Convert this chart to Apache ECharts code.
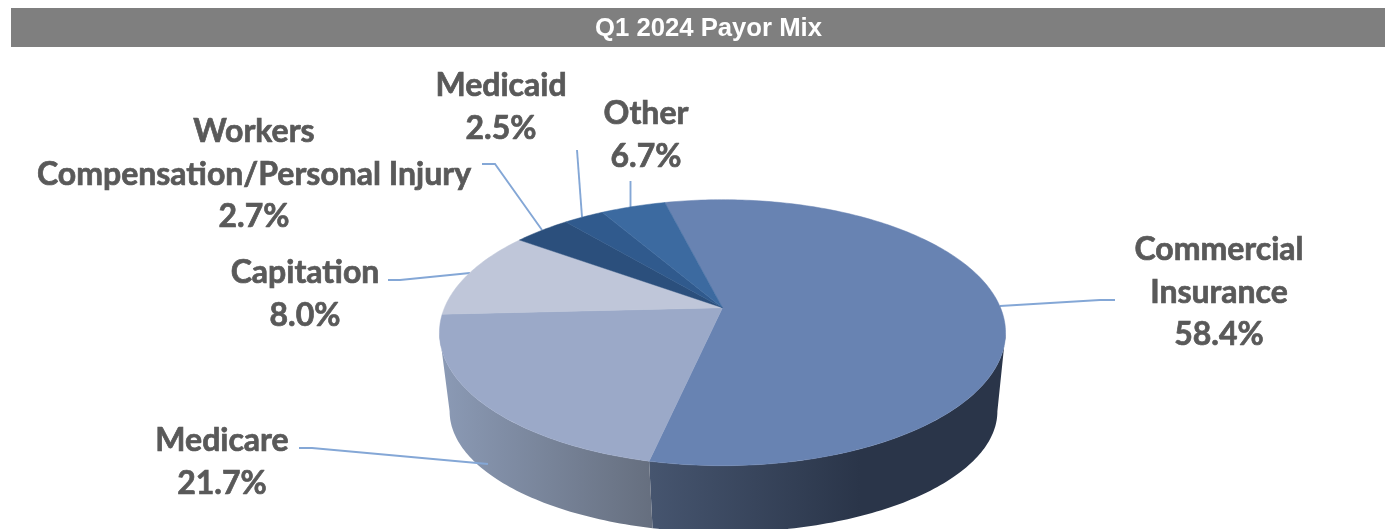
<!DOCTYPE html>
<html>
<head>
<meta charset="utf-8">
<style>html,body{margin:0;padding:0;background:#fff}#c{width:1385px;height:529px}</style>
<script src="https://cdn.jsdelivr.net/npm/echarts@6/dist/echarts.min.js"></script>
</head>
<body>
<div id="c"></div>
<script>
// Category names and the percentages printed on the chart.
const categories = ['Commercial\nInsurance', 'Medicare', 'Capitation', 'Workers\nCompensation/Personal Injury', 'Medicaid', 'Other'];
const printedPercents = [58.4, 21.7, 8.0, 2.7, 2.5, 6.7];
// Slice sizes as drawn in the reference (read from its boundaries): they differ a little from the printed labels.
const drawnShares = [57.4, 20.75, 10.75, 3.9, 2.75, 4.45];

const topColors = ['#6883B2', '#9BA9C8', '#BFC6D9', '#2B4F7C', '#305A8D', '#3C6AA0'];
const sideStops = [
  { from: 650, to: 860, c0: '#46556F', c1: '#2A3549' },
  { from: 441, to: 650, c0: '#8B9AB5', c1: '#666F7F' }
];
const labelLayout = [
  { x: 1219, y: 250, line: [[1000, 306], [1100, 300], [1115, 300]] },
  { x: 222, y: 441, line: [[299, 448], [312, 448], [488, 464]] },
  { x: 305, y: 273, line: [[388, 280], [400, 280], [470, 273]] },
  { x: 254, y: 132, line: [[482, 164], [495, 164], [542, 230]] },
  { x: 501, y: 86, line: [[577, 150], [582, 217]] },
  { x: 646, y: 114, line: [[630.5, 181], [630.5, 207]] }
];

const START_DEG = 345.8;
const P = 0.188;
const TOP = { cx: 722.5, cy: 307.7, R: 278, H: 128.3 };
const BOTTOM = { cx: 723.5, cy: 388.5, R: 269, H: 116.8 };
const EDGE = Math.acos(-P) * 180 / Math.PI; // silhouette angle on the right; mirrored on the left

function project(disc, deg) {
  const a = deg * Math.PI / 180, u = Math.sin(a), v = -Math.cos(a), w = 1 - P * v;
  return [disc.cx + disc.R * u / w, disc.cy + disc.H * v / w];
}
function arc(disc, a0, a1) {
  const n = Math.max(2, Math.ceil(Math.abs(a1 - a0)));
  const pts = [];
  for (let i = 0; i <= n; i++) pts.push(project(disc, a0 + (a1 - a0) * i / n));
  return pts;
}
const total = drawnShares.reduce((s, v) => s + v, 0);

function renderSlice(params, api) {
  const i = params.dataIndex;
  let before = 0;
  for (let k = 0; k < i; k++) before += drawnShares[k];
  const a0 = START_DEG + before / total * 360;
  const a1 = a0 + api.value(0) / total * 360;
  const children = [];

  // visible wall: the part of the slice that lies between the two silhouette angles
  const lo = Math.max(a0, EDGE + 360), hi = Math.min(a1, 360 - EDGE + 360);
  if (hi > lo && sideStops[i]) {
    const s = sideStops[i];
    children.push({
      type: 'polygon',
      shape: { points: arc(TOP, lo, hi).concat(arc(BOTTOM, hi, lo)) },
      style: {
        fill: new echarts.graphic.LinearGradient(s.from, 0, s.to, 0,
          [{ offset: 0, color: s.c0 }, { offset: 1, color: s.c1 }], true)
      }
    });
  }
  // top face
  children.push({
    type: 'polygon',
    z2: 2,
    shape: { points: [[TOP.cx, TOP.cy]].concat(arc(TOP, a0, a1)) },
    style: { fill: topColors[i], stroke: topColors[i], lineWidth: 0.5 }
  });
  // leader
  const L = labelLayout[i];
  children.push({
    type: 'polyline',
    z2: 0,
    shape: { points: L.line },
    style: { fill: null, stroke: '#84A7D6', lineWidth: 1.9 }
  });
  // label
  const lines = categories[i].split('\n').concat(printedPercents[i].toFixed(1) + '%');
  lines.forEach((t, k) => {
    children.push({
      type: 'text',
      z2: 3,
      style: {
        text: t, x: L.x, y: L.y + k * 42.3,
        align: 'center', verticalAlign: 'middle',
        font: 'bold 32px Lato', fill: '#595959',
        stroke: '#595959', lineWidth: 0.7
      }
    });
  });
  return { type: 'group', children };
}

const chart = echarts.init(document.getElementById('c'), null, { renderer: 'canvas', width: 1385, height: 529 });
chart.setOption({
  animation: false,
  backgroundColor: '#ffffff',
  title: {
    text: 'Q1 2024 Payor Mix',
    left: 703.5, top: 11, textAlign: 'center',
    textStyle: { color: '#ffffff', fontFamily: 'Liberation Sans', fontWeight: 'bold', fontSize: 25.7, lineHeight: 26 }
  },
  graphic: [{
    type: 'rect', z: -1, silent: true,
    shape: { x: 11, y: 8, width: 1374, height: 39 },
    style: { fill: '#7F7F7F' }
  }],
  series: [{
    type: 'custom',
    coordinateSystem: 'none',
    renderItem: renderSlice,
    data: drawnShares.map((v, i) => ({ name: categories[i].replace('\n', ' '), value: [v] }))
  }]
});
</script>
</body>
</html>
